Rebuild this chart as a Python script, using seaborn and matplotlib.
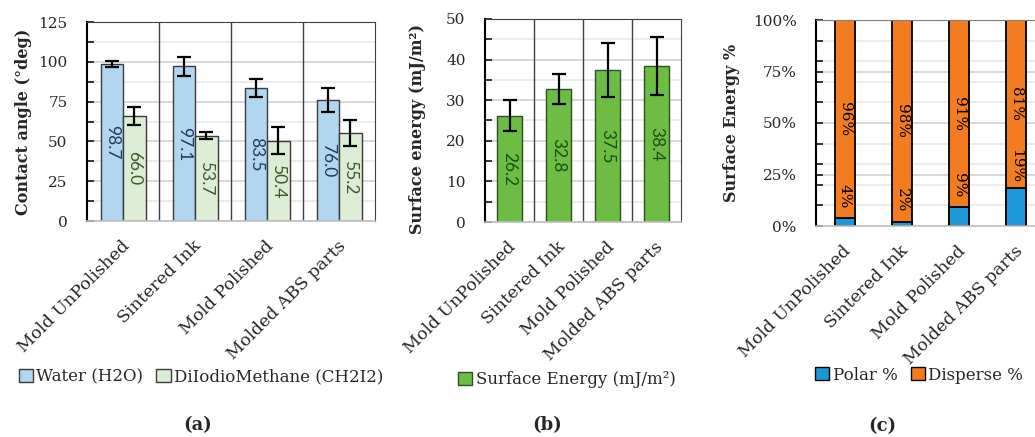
import matplotlib
matplotlib.use("Agg")
import matplotlib.pyplot as plt
import matplotlib.transforms as mtransforms
from matplotlib.patches import Patch
from matplotlib.ticker import MultipleLocator, FuncFormatter
import numpy as np
import pandas as pd
import seaborn as sns

categories = ["Mold UnPolished", "Sintered Ink", "Mold Polished", "Molded ABS parts"]

# (a) contact angle
water_angle = [98.7, 97.1, 83.5, 76.0]
water_err = [1.8, 5.8, 5.4, 7.6]
diiodo_angle = [66.0, 53.7, 50.4, 55.2]
diiodo_err = [5.5, 1.9, 8.5, 8.0]
liquids = ["Water (H2O)", "DiIodioMethane (CH2I2)"]

# (b) surface energy
surface_energy = [26.2, 32.8, 37.5, 38.4]
surface_energy_err = [3.75, 3.7, 6.6, 7.2]

# (c) polar / disperse share
polar_pct = [3.9, 1.9, 9.1, 18.6]
disperse_pct = [96.1, 98.1, 90.9, 81.4]

water_col = "#b2d6ef"
diiodo_col = "#ddecd5"
green_col = "#6dbd45"
polar_col = "#1b98d5"
disperse_col = "#f47c20"

sns.set_style("white")
plt.rcParams["font.family"] = ["DejaVu Serif"]

fig = plt.figure(figsize=(10.35, 4.37), dpi=100)
W, H = 1035, 437


def box(x0, x1, ytop, ybot):
    return [x0 / W, 1 - ybot / H, (x1 - x0) / W, (ybot - ytop) / H]


def style_axes(ax, major, minor, separators=True):
    ax.yaxis.set_major_locator(MultipleLocator(major))
    ax.yaxis.set_minor_locator(MultipleLocator(minor))
    ax.grid(which="major", axis="y", color="#d2d2d2", lw=1.2)
    ax.grid(which="minor", axis="y", color="#e9e9e9", lw=1.2)
    ax.set_axisbelow(True)
    ax.tick_params(axis="y", which="both", direction="in", length=5, width=1.3,
                   pad=14, labelsize=11, left=True)
    ax.tick_params(axis="x", length=0, pad=16)
    ax.set_xlim(-0.5, 3.5)
    ax.set_xlabel("")
    ax.spines["left"].set_color("black")
    ax.spines["left"].set_linewidth(1.5)
    ax.spines["bottom"].set_color("#bfbfbf")
    ax.spines["bottom"].set_linewidth(1.2)
    ax.spines["top"].set_color("#404040")
    ax.spines["right"].set_color("#404040")
    if separators:
        for s in [0.5, 1.5, 2.5]:
            ax.axvline(s, color="#404040", lw=1.0, zorder=1)
    ax.set_xticks(range(len(categories)))
    ax.set_xticklabels(categories, rotation=45, ha="right", va="center",
                       rotation_mode="anchor", fontsize=12.5)
    shift = mtransforms.ScaledTranslation(4 / 100, 0, fig.dpi_scale_trans)
    for lab in ax.get_xticklabels():
        lab.set_transform(lab.get_transform() + shift)


# ---------- (a) ----------
ax1 = fig.add_axes(box(87, 375, 22, 221))
df_a = pd.DataFrame({
    "sample": categories * 2,
    "liquid": [liquids[0]] * 4 + [liquids[1]] * 4,
    "angle": water_angle + diiodo_angle,
})
sns.barplot(data=df_a, x="sample", y="angle", hue="liquid",
            palette=[water_col, diiodo_col], saturation=1, width=0.625,
            edgecolor="#3a3a3a", linewidth=1.0, errorbar=None, legend=False, ax=ax1)
ax1.set_ylim(0, 125)
style_axes(ax1, 25, 12.5)
ax1.set_ylabel("Contact angle (°deg)", fontsize=11.5, fontweight="bold")
ax1.yaxis.set_label_coords(-0.19, 0.5)
for cont, errs, tcol in zip(ax1.containers, [water_err, diiodo_err], ["#1f3a5f", "#3b5a2b"]):
    xs = [b.get_x() + b.get_width() / 2 for b in cont]
    hs = [b.get_height() for b in cont]
    ax1.errorbar(xs, hs, yerr=errs, fmt="none", ecolor="black", elinewidth=1.6,
                 capsize=5, capthick=1.6, zorder=5)
    for x, h in zip(xs, hs):
        ax1.text(x, h / 2, f"{h:.1f}", rotation=270, ha="center", va="center",
                 fontsize=12.5, family="Lato", color=tcol, zorder=6)

fig.legend(handles=[Patch(facecolor=water_col, edgecolor="#3a3a3a", label=liquids[0]),
                    Patch(facecolor=diiodo_col, edgecolor="#3a3a3a", label=liquids[1])],
           loc="center", bbox_to_anchor=(201 / W, 1 - 377 / H), ncol=2, frameon=False,
           fontsize=12, handlelength=0.85, handleheight=0.85, handletextpad=0.2,
           columnspacing=0.8)

# ---------- (b) ----------
ax2 = fig.add_axes(box(485, 681, 19, 222))
sns.barplot(x=categories, y=surface_energy, color=green_col, saturation=1, width=0.49,
            edgecolor="#2f4f22", linewidth=1.0, errorbar=None, ax=ax2)
ax2.set_ylim(0, 50)
style_axes(ax2, 10, 5)
ax2.set_ylabel("Surface energy (mJ/m²)", fontsize=11.5, fontweight="bold")
ax2.yaxis.set_label_coords(-0.30, 0.46)
cont = ax2.containers[0]
xs = [b.get_x() + b.get_width() / 2 for b in cont]
hs = [b.get_height() for b in cont]
ax2.errorbar(xs, hs, yerr=surface_energy_err, fmt="none", ecolor="black", elinewidth=1.6,
             capsize=5, capthick=1.6, zorder=5)
for x, h in zip(xs, hs):
    ax2.text(x, h / 2, f"{h:.1f}", rotation=270, ha="center", va="center",
             fontsize=12.5, family="Lato", color="#1e4d12", zorder=6)

fig.legend(handles=[Patch(facecolor=green_col, edgecolor="#2f4f22",
                          label="Surface Energy (mJ/m²)")],
           loc="center", bbox_to_anchor=(567 / W, 1 - 380 / H), frameon=False,
           fontsize=12, handlelength=0.85, handleheight=0.85, handletextpad=0.2)

# ---------- (c) ----------
ax3 = fig.add_axes(box(816, 1045, 20, 226))
totals = np.add(polar_pct, disperse_pct)
sns.barplot(x=categories, y=totals, color=disperse_col, saturation=1, width=0.35,
            edgecolor="black", linewidth=1.3, errorbar=None, ax=ax3)
sns.barplot(x=categories, y=polar_pct, color=polar_col, saturation=1, width=0.35,
            edgecolor="black", linewidth=1.3, errorbar=None, ax=ax3)
ax3.set_ylim(0, 100)
style_axes(ax3, 25, 10, separators=False)
ax3.spines["right"].set_visible(False)
ax3.spines["top"].set_color("#7f7f7f")
ax3.yaxis.set_major_formatter(FuncFormatter(lambda v, p: f"{v:.0f}%"))
ax3.set_ylabel("Surface Energy %", fontsize=11.5, fontweight="bold")
ax3.yaxis.set_label_coords(-0.33, 0.5)
for i, (p, d) in enumerate(zip(polar_pct, disperse_pct)):
    ax3.text(i, p + 10.5, f"{p:.0f}%", rotation=270, ha="center", va="center",
             fontsize=11, color="black", zorder=6)
    ax3.text(i, p + d / 2, f"{d:.0f}%", rotation=270, ha="center", va="center",
             fontsize=11, color="black", zorder=6)

fig.legend(handles=[Patch(facecolor=polar_col, edgecolor="black", label="Polar %"),
                    Patch(facecolor=disperse_col, edgecolor="black", label="Disperse %")],
           loc="center", bbox_to_anchor=(919 / W, 1 - 375 / H), ncol=2, frameon=False,
           fontsize=12, handlelength=0.85, handleheight=0.85, handletextpad=0.2,
           columnspacing=0.8)

# panel letters
for txt, x, y in [("a", 198, 425), ("b", 547, 425), ("c", 882, 426)]:
    fig.text(x / W, 1 - y / H, f"({txt})", ha="center", va="center",
             fontsize=13, fontweight="bold")

fig.savefig("out.png", dpi=100)
